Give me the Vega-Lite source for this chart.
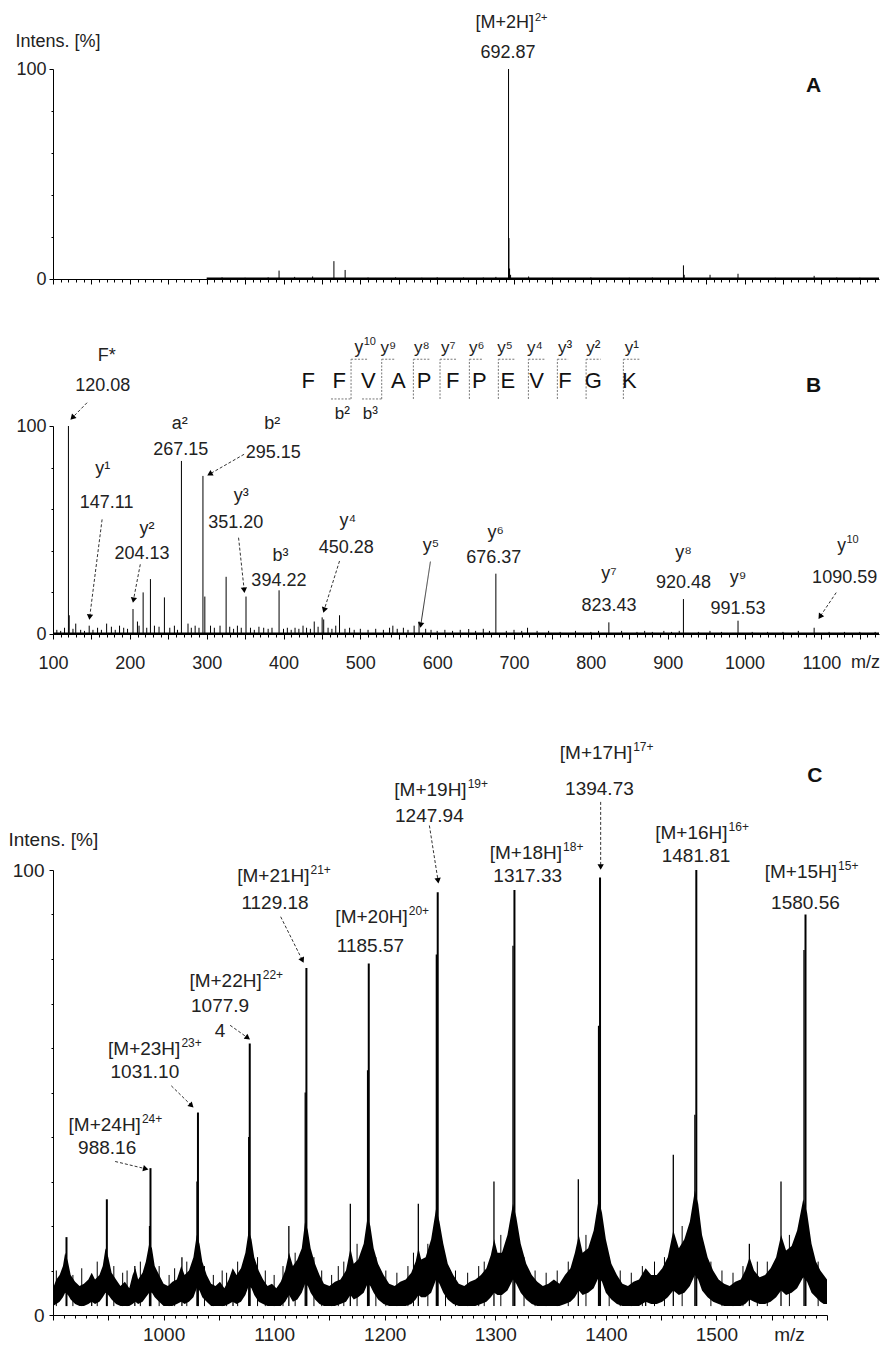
{
  "$schema": "https://vega.github.io/schema/vega-lite/v6.json",
  "padding": {"left": 8, "top": 11, "right": 0, "bottom": 0},
  "bounds": "flush",
  "spacing": 0,
  "config": {
    "view": {"stroke": null},
    "font": "Liberation Sans",
    "axis": {"grid": false, "domainColor": "#000", "tickColor": "#000", "labelColor": "#222", "titleColor": "#222", "titleFontWeight": "normal", "labelFont": "Liberation Sans", "titleFont": "Liberation Sans"},
    "text": {"color": "#222", "font": "Liberation Sans"}
  },
  "datasets": {
    "A_peaks": [
      {"mz":320,"int":0.8},{"mz":350,"int":0.6},{"mz":380,"int":0.8},{"mz":394.2,"int":4},{"mz":414.5,"int":1},{"mz":437.9,"int":1.2},{"mz":465.6,"int":8.5},{"mz":480.2,"int":4.3},{"mz":510,"int":0.7},{"mz":545.9,"int":0.8},{"mz":580,"int":0.6},{"mz":600,"int":0.8},{"mz":634.3,"int":0.7},{"mz":660,"int":0.7},{"mz":676.4,"int":1},{"mz":692.87,"int":100},{"mz":693.4,"int":19.5},{"mz":694.2,"int":5},{"mz":695.5,"int":2},{"mz":719,"int":1.2},{"mz":750,"int":0.6},{"mz":800,"int":0.7},{"mz":850,"int":0.6},{"mz":880,"int":0.7},{"mz":920.5,"int":6.5},{"mz":921.5,"int":2},{"mz":955.1,"int":2},{"mz":991.5,"int":2.5},{"mz":1040,"int":0.6},{"mz":1090.6,"int":1.5},{"mz":1120,"int":0.7},{"mz":1150,"int":0.6}
    ],
    "A_base": [{"mz":300,"mz2":1175,"int":0.3}],
    "A_text": [
      {"t":"692.87","mz":692.1,"int":107.8}
    ],
    "A_sup": [
      {"m":"[M+2H]","s":"2+","mz":725.9,"int":122}
    ],
    "B_base": [{"mz":100,"mz2":1175,"int":0.4}],
    "B_peaks": [
      {"mz":120.08,"int":100},{"mz":121.1,"int":9},{"mz":129.6,"int":5},{"mz":147.11,"int":4},{"mz":169.8,"int":5},{"mz":186.6,"int":4},{"mz":204.13,"int":12},{"mz":209.9,"int":6},{"mz":217.3,"int":20},{"mz":226.8,"int":26.4},{"mz":245,"int":17.6},{"mz":267.15,"int":83.2},{"mz":275.7,"int":5},{"mz":295.15,"int":76},{"mz":297.6,"int":18},{"mz":317.4,"int":4},{"mz":325.3,"int":27.5},{"mz":351.2,"int":18},{"mz":374.2,"int":3},{"mz":394.22,"int":21},{"mz":425.4,"int":4},{"mz":440,"int":6},{"mz":450.28,"int":8},{"mz":452.3,"int":7},{"mz":472.9,"int":9},{"mz":542.3,"int":4},{"mz":570,"int":4},{"mz":576.4,"int":6},{"mz":641,"int":2.4},{"mz":676.37,"int":29},{"mz":717.6,"int":3},{"mz":823.43,"int":5.6},{"mz":920.48,"int":16.8},{"mz":991.53,"int":6.4},{"mz":1090.59,"int":3},
      {"mz":105,"int":2},{"mz":110,"int":1.5},{"mz":115,"int":3},{"mz":126,"int":2.5},{"mz":136,"int":2},{"mz":141,"int":1.5},{"mz":152,"int":2},{"mz":158,"int":3},{"mz":163,"int":2},{"mz":176,"int":3.5},{"mz":181,"int":2},{"mz":192,"int":3},{"mz":197,"int":2.5},{"mz":212,"int":4},{"mz":222,"int":3},{"mz":232,"int":4},{"mz":238,"int":3.5},{"mz":252,"int":3},{"mz":258,"int":4},{"mz":262,"int":2},{"mz":280,"int":3},{"mz":285,"int":4},{"mz":290,"int":3},{"mz":305,"int":4},{"mz":310,"int":3},{"mz":330,"int":3.5},{"mz":335,"int":2.5},{"mz":340,"int":4},{"mz":345,"int":3},{"mz":357,"int":3},{"mz":362,"int":2},{"mz":368,"int":3.5},{"mz":380,"int":2.5},{"mz":385,"int":3},{"mz":400,"int":2.5},{"mz":405,"int":3},{"mz":410,"int":2},{"mz":415,"int":3},{"mz":420,"int":2.5},{"mz":430,"int":3},{"mz":435,"int":2.5},{"mz":445,"int":3.5},{"mz":458,"int":3},{"mz":463,"int":2.5},{"mz":468,"int":4},{"mz":480,"int":2.5},{"mz":486,"int":3},{"mz":492,"int":2},{"mz":500,"int":2.5},{"mz":510,"int":2},{"mz":520,"int":2.5},{"mz":530,"int":2},{"mz":538,"int":3},{"mz":548,"int":2.5},{"mz":556,"int":3},{"mz":562,"int":2},{"mz":585,"int":2.5},{"mz":592,"int":2},{"mz":600,"int":1.5},{"mz":610,"int":2},{"mz":620,"int":1.5},{"mz":630,"int":2},{"mz":650,"int":1.5},{"mz":660,"int":2.5},{"mz":668,"int":1.5},{"mz":690,"int":1.5},{"mz":700,"int":2},{"mz":710,"int":1.5},{"mz":730,"int":1.5},{"mz":745,"int":1.5},{"mz":760,"int":1},{"mz":780,"int":1.5},{"mz":800,"int":1},{"mz":810,"int":1.5},{"mz":840,"int":1.5},{"mz":860,"int":1},{"mz":870,"int":1.5},{"mz":880,"int":1},{"mz":895,"int":1.5},{"mz":905,"int":1},{"mz":915,"int":1.5},{"mz":940,"int":1},{"mz":955,"int":1.5},{"mz":970,"int":1},{"mz":1010,"int":1},{"mz":1030,"int":1},{"mz":1050,"int":1},{"mz":1070,"int":1.5},{"mz":1110,"int":1},{"mz":1130,"int":1},{"mz":1150,"int":1},{"mz":1170,"int":1}
    ],
    "B_text": [
      {"t":"F*","mz":169.8,"int":133.7},{"t":"120.08","mz":164.7,"int":119.2},
      {"t":"a²","mz":264.8,"int":100.8},{"t":"267.15","mz":266.2,"int":88.3},
      {"t":"b²","mz":385.3,"int":100.8},{"t":"295.15","mz":386.7,"int":87.2},
      {"t":"y¹","mz":164.7,"int":79.2},{"t":"147.11","mz":169.8,"int":63.1},
      {"t":"y²","mz":222.3,"int":50.3},{"t":"204.13","mz":215.8,"int":38.3},
      {"t":"y³","mz":345.1,"int":66.3},{"t":"351.20","mz":337.8,"int":53.5},
      {"t":"b³","mz":396.2,"int":37.5},{"t":"394.22","mz":394.0,"int":25.5},
      {"t":"y⁴","mz":483.8,"int":54.3},{"t":"450.28","mz":481.6,"int":41.5},
      {"t":"y⁵","mz":592,"int":42.3},
      {"t":"y⁶","mz":676,"int":48.7},{"t":"676.37","mz":673.7,"int":36.7},
      {"t":"y⁷","mz":823.5,"int":28.7},{"t":"823.43","mz":823.5,"int":13.5},
      {"t":"y⁸","mz":920.6,"int":39.1},{"t":"920.48","mz":920.6,"int":24.7},
      {"t":"y⁹","mz":991.6,"int":27.1},{"t":"991.53","mz":991.6,"int":11.9},
      {"t":"1090.59","mz":1130.3,"int":27.1}
    ],
    "B_sup": [
      {"m":"y","s":"10","mz":503.7,"int":137.6},
      {"m":"y","s":"10","mz":1131.9,"int":42.3}
    ],
    "B_seq": [
      {"t":"F","mz":432.3},{"t":"F","mz":472.6},{"t":"V","mz":510.4},{"t":"A","mz":549.4},{"t":"P","mz":582.9},{"t":"F","mz":620.2},{"t":"P","mz":654.8},{"t":"E","mz":691.8},{"t":"V","mz":729.5},{"t":"F","mz":766.3},{"t":"G","mz":803.2},{"t":"K","mz":850.0}
    ],
    "B_ions": [
      {"t":"y⁹","mz":536.4,"int":137.6},{"t":"y⁸","mz":579.9,"int":137.6},{"t":"y⁷","mz":614.5,"int":137.6},{"t":"y⁶","mz":651.4,"int":137.6},{"t":"y⁵","mz":688.3,"int":137.6},{"t":"y⁴","mz":727.3,"int":137.6},{"t":"y³","mz":766.4,"int":137.6},{"t":"y²","mz":803.2,"int":137.6},{"t":"y¹","mz":853.2,"int":137.6},
      {"t":"b²","mz":476.5,"int":105.6},{"t":"b³","mz":513.1,"int":105.6}
    ],
    "B_brk": [
      {"mz":487.9,"int":113,"mz2":487.9,"int2":132.1},{"mz":527.8,"int":113,"mz2":527.8,"int2":132.1},{"mz":569.0,"int":113,"mz2":569.0,"int2":132.1},{"mz":603.7,"int":113,"mz2":603.7,"int2":132.1},{"mz":641.9,"int":113,"mz2":641.9,"int2":132.1},{"mz":679.6,"int":113,"mz2":679.6,"int2":132.1},{"mz":718.7,"int":113,"mz2":718.7,"int2":132.1},{"mz":756.4,"int":113,"mz2":756.4,"int2":132.1},{"mz":793.8,"int":113,"mz2":793.8,"int2":132.1},{"mz":842.3,"int":113,"mz2":842.3,"int2":132.1},
      {"mz":487.9,"int":132.1,"mz2":509.9,"int2":132.1},{"mz":527.8,"int":132.1,"mz2":545.8,"int2":132.1},{"mz":569.0,"int":132.1,"mz2":591.0,"int2":132.1},{"mz":603.7,"int":132.1,"mz2":625.7,"int2":132.1},{"mz":641.9,"int":132.1,"mz2":659.9,"int2":132.1},{"mz":679.6,"int":132.1,"mz2":701.6,"int2":132.1},{"mz":718.7,"int":132.1,"mz2":740.7,"int2":132.1},{"mz":756.4,"int":132.1,"mz2":770.4,"int2":132.1},{"mz":793.8,"int":132.1,"mz2":812.8,"int2":132.1},{"mz":842.3,"int":132.1,"mz2":864.3,"int2":132.1},
      {"mz":461.8,"int":113,"mz2":487.9,"int2":113},{"mz":502.2,"int":113,"mz2":527.8,"int2":113}
    ],
    "B_arr": [
      {"ion":"F","mz":144.3,"int":111.2,"mz2":126.0,"int2":104.3},
      {"ion":"b2","mz":348.7,"int":86.4,"mz2":304.9,"int2":77.1},
      {"ion":"y1","mz":163.9,"int":55.1,"mz2":147.9,"int2":8.6},
      {"ion":"y2","mz":213.6,"int":33.5,"mz2":204.9,"int2":16.7},
      {"ion":"y3","mz":341.5,"int":46.3,"mz2":348.7,"int2":21.5},
      {"ion":"y4","mz":472.9,"int":35.1,"mz2":453.2,"int2":11.9},
      {"ion":"y5","mz":591.2,"int":34.8,"mz2":578.8,"int2":4.7},
      {"ion":"y10","mz":1119.3,"int":19.9,"mz2":1098.9,"int2":8.7}
    ],
    "C_env": [
      {"mz":900,"hi":6,"lo":2},{"mz":903,"hi":8,"lo":2.5},{"mz":906,"hi":9,"lo":3},{"mz":909,"hi":11,"lo":4},{"mz":911,"hi":14,"lo":5},{"mz":913.5,"hi":12,"lo":4.5},{"mz":916,"hi":9,"lo":3.5},{"mz":920,"hi":7.5,"lo":2.5},{"mz":924,"hi":6.5,"lo":2},{"mz":928,"hi":7,"lo":2},{"mz":932,"hi":8,"lo":2.5},{"mz":935,"hi":9.5,"lo":3},{"mz":938,"hi":8,"lo":2.5},{"mz":942,"hi":9,"lo":3},{"mz":945,"hi":11,"lo":4},{"mz":947.5,"hi":15,"lo":5},{"mz":950,"hi":13,"lo":4.5},{"mz":953,"hi":9.5,"lo":3.5},{"mz":957,"hi":8,"lo":2.5},{"mz":961,"hi":6.5,"lo":2},{"mz":965,"hi":7.5,"lo":2},{"mz":969,"hi":6,"lo":2},{"mz":972,"hi":9,"lo":2.5},{"mz":974.5,"hi":10.5,"lo":3},{"mz":977,"hi":8,"lo":2.5},{"mz":981,"hi":9.5,"lo":3},{"mz":984,"hi":12,"lo":4},{"mz":987,"hi":16,"lo":5},{"mz":989.5,"hi":15,"lo":5},{"mz":992,"hi":11,"lo":4},{"mz":996,"hi":9,"lo":3},
      {"mz":1000,"hi":7,"lo":2},{"mz":1004,"hi":6.5,"lo":2},{"mz":1008,"hi":7.5,"lo":2},{"mz":1012,"hi":8,"lo":2.5},{"mz":1016,"hi":11,"lo":3},{"mz":1019,"hi":9,"lo":2.5},{"mz":1023,"hi":10,"lo":3},{"mz":1027,"hi":13,"lo":4},{"mz":1030,"hi":18,"lo":6},{"mz":1032.5,"hi":16,"lo":5.5},{"mz":1035,"hi":12,"lo":4},{"mz":1039,"hi":9,"lo":3},{"mz":1043,"hi":7,"lo":2},{"mz":1047,"hi":6.5,"lo":2},{"mz":1051,"hi":7.5,"lo":2},{"mz":1055,"hi":6,"lo":2},{"mz":1059,"hi":8,"lo":2.5},{"mz":1062.5,"hi":10.5,"lo":3},{"mz":1066,"hi":9,"lo":2.5},{"mz":1070,"hi":10.5,"lo":3},{"mz":1074,"hi":14,"lo":4.5},{"mz":1077,"hi":19,"lo":6.5},{"mz":1079.5,"hi":17,"lo":6},{"mz":1082,"hi":13,"lo":4.5},{"mz":1086,"hi":10,"lo":3},{"mz":1090,"hi":8,"lo":2.5},{"mz":1094,"hi":6.5,"lo":2},{"mz":1098,"hi":7,"lo":2},
      {"mz":1102,"hi":6,"lo":2},{"mz":1106,"hi":7.5,"lo":2},{"mz":1110,"hi":10,"lo":3},{"mz":1113.5,"hi":14,"lo":4.5},{"mz":1117,"hi":11,"lo":3},{"mz":1121,"hi":12.5,"lo":3.5},{"mz":1125,"hi":15,"lo":5},{"mz":1128,"hi":21,"lo":7},{"mz":1130.5,"hi":19,"lo":6.5},{"mz":1133,"hi":15,"lo":5},{"mz":1137,"hi":11.5,"lo":3.5},{"mz":1141,"hi":9,"lo":2.5},{"mz":1145,"hi":7,"lo":2},{"mz":1150,"hi":6.5,"lo":2},{"mz":1155,"hi":7.5,"lo":2},{"mz":1160,"hi":8,"lo":2.5},{"mz":1165,"hi":10,"lo":3},{"mz":1169,"hi":15,"lo":4.5},{"mz":1172,"hi":11.5,"lo":3.5},{"mz":1176,"hi":12.5,"lo":4},{"mz":1181,"hi":16,"lo":5},{"mz":1184.5,"hi":22,"lo":7},{"mz":1187,"hi":20,"lo":6.5},{"mz":1190,"hi":15,"lo":5},{"mz":1194,"hi":11.5,"lo":3.5},{"mz":1199,"hi":9,"lo":2.5},
      {"mz":1204,"hi":7,"lo":2},{"mz":1209,"hi":6.5,"lo":2},{"mz":1214,"hi":7.5,"lo":2},{"mz":1219,"hi":8,"lo":2},{"mz":1224,"hi":9.5,"lo":2.5},{"mz":1228,"hi":12,"lo":3.5},{"mz":1230.5,"hi":15,"lo":4.5},{"mz":1233,"hi":12.5,"lo":4},{"mz":1237,"hi":13,"lo":4},{"mz":1242,"hi":17,"lo":5},{"mz":1246.5,"hi":24,"lo":8},{"mz":1249.5,"hi":21,"lo":7},{"mz":1253,"hi":16,"lo":5},{"mz":1257,"hi":11.5,"lo":3.5},{"mz":1262,"hi":9,"lo":2.5},{"mz":1267,"hi":7,"lo":2},{"mz":1272,"hi":6.5,"lo":2},{"mz":1277,"hi":7.5,"lo":2},{"mz":1282,"hi":8,"lo":2},{"mz":1287,"hi":9,"lo":2.5},{"mz":1292,"hi":10.5,"lo":3},{"mz":1296,"hi":13.5,"lo":4},{"mz":1299,"hi":17,"lo":5},
      {"mz":1302,"hi":14,"lo":4.5},{"mz":1306,"hi":14,"lo":4.5},{"mz":1311,"hi":18,"lo":5.5},{"mz":1316,"hi":25,"lo":8},{"mz":1319,"hi":22,"lo":7},{"mz":1323,"hi":16,"lo":5},{"mz":1328,"hi":11.5,"lo":3.5},{"mz":1333,"hi":9,"lo":2.5},{"mz":1338,"hi":7.5,"lo":2},{"mz":1343,"hi":6.5,"lo":2},{"mz":1348,"hi":7,"lo":2},{"mz":1353,"hi":8,"lo":2},{"mz":1358,"hi":7,"lo":2},{"mz":1363,"hi":9,"lo":2.5},{"mz":1368,"hi":10.5,"lo":3},{"mz":1372,"hi":14,"lo":4},{"mz":1375.5,"hi":18,"lo":5.5},{"mz":1379,"hi":14,"lo":4.5},{"mz":1384,"hi":15,"lo":5},{"mz":1389,"hi":19,"lo":6},{"mz":1393.5,"hi":26,"lo":8.5},{"mz":1396.5,"hi":23,"lo":7.5},
      {"mz":1400,"hi":17,"lo":5},{"mz":1405,"hi":11.5,"lo":3.5},{"mz":1410,"hi":9,"lo":2.5},{"mz":1415,"hi":7,"lo":2},{"mz":1420,"hi":6.5,"lo":2},{"mz":1425,"hi":7.5,"lo":2},{"mz":1430,"hi":8,"lo":2},{"mz":1436,"hi":10.5,"lo":3},{"mz":1441,"hi":9,"lo":2.5},{"mz":1446,"hi":9,"lo":2.5},{"mz":1451,"hi":10.5,"lo":3},{"mz":1456,"hi":13,"lo":4},{"mz":1461,"hi":19,"lo":5.5},{"mz":1466,"hi":15,"lo":4.5},{"mz":1471,"hi":17,"lo":5},{"mz":1476,"hi":21,"lo":6.5},{"mz":1480.5,"hi":28,"lo":9},{"mz":1483.5,"hi":25,"lo":8},{"mz":1487,"hi":18,"lo":5.5},{"mz":1492,"hi":13,"lo":4},{"mz":1497,"hi":10,"lo":3},
      {"mz":1502,"hi":8,"lo":2.5},{"mz":1507,"hi":7,"lo":2},{"mz":1512,"hi":6.5,"lo":2},{"mz":1517,"hi":7.5,"lo":2},{"mz":1522,"hi":8,"lo":2},{"mz":1526,"hi":10,"lo":2.5},{"mz":1530,"hi":13,"lo":3.5},{"mz":1534,"hi":10,"lo":3},{"mz":1539,"hi":8.5,"lo":2.5},{"mz":1544,"hi":9,"lo":2.5},{"mz":1549,"hi":10.5,"lo":3},{"mz":1554,"hi":13,"lo":4},{"mz":1558.5,"hi":18,"lo":5.5},{"mz":1563,"hi":14.5,"lo":4.5},{"mz":1568,"hi":15.5,"lo":5},{"mz":1573,"hi":19,"lo":6},{"mz":1578.5,"hi":26,"lo":8.5},{"mz":1582,"hi":23,"lo":7.5},{"mz":1586,"hi":16,"lo":5},{"mz":1590,"hi":12,"lo":4},{"mz":1594,"hi":10,"lo":3},{"mz":1597,"hi":9,"lo":2.5},{"mz":1600,"hi":8,"lo":2.5}
    ],
    "C_main": [
      {"mz":912.2,"int":17.5},{"mz":948.7,"int":26},{"mz":988.16,"int":33},{"mz":1031.1,"int":45.5},{"mz":1077.94,"int":61},{"mz":1129.18,"int":78},{"mz":1185.57,"int":79},{"mz":1247.94,"int":95},{"mz":1317.33,"int":95.5},{"mz":1394.73,"int":98.3},{"mz":1481.81,"int":100},{"mz":1580.56,"int":90}
    ],
    "C_sat": [
      {"mz":935,"int":9},{"mz":974,"int":11},{"mz":1016.6,"int":13},{"mz":1062.8,"int":10},{"mz":1113.3,"int":20},{"mz":1168.9,"int":25},{"mz":1230.4,"int":25},{"mz":1298.8,"int":30},{"mz":1375.1,"int":30.5},{"mz":1436,"int":9},{"mz":1461,"int":36},{"mz":1529.8,"int":16},{"mz":1558.4,"int":30},
      {"mz":987.3,"int":20},{"mz":1030.2,"int":30},{"mz":1077,"int":40},{"mz":1128.1,"int":50},{"mz":1184.5,"int":55},{"mz":1246.7,"int":81},{"mz":1316,"int":83},{"mz":1393.4,"int":65},{"mz":1480.5,"int":45},{"mz":1579.2,"int":82}
    ],
    "C_grass": [
      {"mz":903,"int":10},{"mz":918,"int":9},{"mz":926,"int":10.5},{"mz":940,"int":12},{"mz":955,"int":11},{"mz":963,"int":9.5},{"mz":967,"int":10},{"mz":979,"int":12},{"mz":996,"int":11},{"mz":1005,"int":9},{"mz":1010,"int":10.5},{"mz":1021,"int":12},{"mz":1037,"int":11},{"mz":1045,"int":9},{"mz":1053,"int":10},{"mz":1057,"int":9.5},{"mz":1067,"int":12},{"mz":1085,"int":13},{"mz":1092,"int":10},{"mz":1100,"int":9},{"mz":1108,"int":11},{"mz":1119,"int":14},{"mz":1136,"int":13},{"mz":1143,"int":10},{"mz":1152,"int":9},{"mz":1158,"int":11},{"mz":1163,"int":12},{"mz":1175,"int":16},{"mz":1192,"int":13},{"mz":1201,"int":10},{"mz":1211,"int":9.5},{"mz":1221,"int":11},{"mz":1226,"int":14},{"mz":1239,"int":16},{"mz":1255,"int":13},{"mz":1264,"int":10},{"mz":1275,"int":9.5},{"mz":1285,"int":11},{"mz":1290,"int":12},{"mz":1305,"int":18},{"mz":1326,"int":13},{"mz":1336,"int":10},{"mz":1346,"int":9.5},{"mz":1356,"int":10},{"mz":1366,"int":12},{"mz":1382,"int":18},{"mz":1403,"int":13},{"mz":1413,"int":10},{"mz":1423,"int":9.5},{"mz":1433,"int":11},{"mz":1444,"int":12},{"mz":1453,"int":13},{"mz":1469,"int":20},{"mz":1495,"int":12},{"mz":1505,"int":10},{"mz":1515,"int":9.5},{"mz":1524,"int":11},{"mz":1537,"int":12},{"mz":1546,"int":12},{"mz":1566,"int":18},{"mz":1592,"int":12}
    ],
    "C_text": [
      {"t":"988.16","mz":949,"int":37.6},
      {"t":"1031.10","mz":983.1,"int":54.6},
      {"t":"1077.9","mz":1051.1,"int":69.4},{"t":"4","mz":1051.1,"int":63.8},
      {"t":"1129.18","mz":1100.8,"int":92.6},
      {"t":"1185.57","mz":1187.1,"int":83},
      {"t":"1247.94","mz":1240.4,"int":112.2},
      {"t":"1317.33","mz":1329.3,"int":98.7},
      {"t":"1394.73","mz":1394.2,"int":118.3},
      {"t":"1481.81","mz":1481.6,"int":103.1},
      {"t":"1580.56","mz":1580.5,"int":92.6}
    ],
    "C_sup": [
      {"m":"[M+24H]","s":"24+","mz":979.5,"int":42.8},
      {"m":"[M+23H]","s":"23+","mz":1015.2,"int":59.8},
      {"m":"[M+22H]","s":"22+","mz":1088.8,"int":75.1},
      {"m":"[M+21H]","s":"21+","mz":1132.0,"int":98.7},
      {"m":"[M+20H]","s":"20+","mz":1220.8,"int":89.5},
      {"m":"[M+19H]","s":"19+","mz":1274.1,"int":117.9},
      {"m":"[M+18H]","s":"18+","mz":1360.4,"int":103.9},
      {"m":"[M+17H]","s":"17+","mz":1423.8,"int":126.2},
      {"m":"[M+16H]","s":"16+","mz":1510.1,"int":108.3},
      {"m":"[M+15H]","s":"15+","mz":1609.1,"int":99.6}
    ],
    "C_arr": [
      {"mz":956.2,"int":34.5,"mz2":983.1,"int2":32.9},
      {"mz":1007,"int":51.5,"mz2":1024.7,"int2":47.2},
      {"mz":1060.2,"int":65.1,"mz2":1075.5,"int2":62.4},
      {"mz":1105.9,"int":89.5,"mz2":1125.2,"int2":79.9},
      {"mz":1240.4,"int":110,"mz2":1248.1,"int2":97.8},
      {"mz":1395.3,"int":115.3,"mz2":1395.3,"int2":100.9}
    ]
  },
  "vconcat": [
    {
      "width": 826, "height": 210,
      "layer": [
        {
          "data": {"name": "A_peaks"},
          "mark": {"type": "rule", "color": "black", "strokeWidth": 1},
          "encoding": {
            "x": {"field": "mz", "type": "quantitative", "scale": {"domain": [100, 1175], "nice": false, "zero": false},
                  "axis": {"title": null, "labels": false, "tickCount": 108, "tickSize": {"condition": {"test": "datum.value % 50 === 0", "value": 5}, "value": 3}}},
            "y": {"field": "int", "type": "quantitative", "scale": {"domain": [0, 100], "nice": false},
                  "axis": {"title": "Intens. [%]", "titleAngle": 0, "titleAlign": "left", "titleBaseline": "middle", "titleX": -38, "titleY": -28, "titleFontSize": 18,
                           "values": [0,10,20,30,40,50,60,70,80,90,100], "labelExpr": "datum.value === 0 || datum.value === 100 ? datum.label : ''", "labelFontSize": 18, "labelPadding": 3,
                           "tickSize": {"condition": {"test": "datum.value === 0 || datum.value === 100", "value": 4}, "value": 2}}},
            "y2": {"datum": 0}
          }
        },
        {
          "data": {"name": "A_base"},
          "mark": {"type": "rule", "color": "black", "strokeWidth": 1.5},
          "encoding": {
            "x": {"field": "mz", "type": "quantitative", "scale": {"domain": [100, 1175], "nice": false, "zero": false}},
            "x2": {"field": "mz2"},
            "y": {"field": "int", "type": "quantitative", "scale": {"domain": [0, 100], "nice": false}}
          }
        },
        {
          "data": {"name": "A_text"},
          "mark": {"type": "text", "fontSize": 18, "baseline": "middle", "align": "center"},
          "encoding": {
            "x": {"field": "mz", "type": "quantitative", "scale": {"domain": [100, 1175], "nice": false, "zero": false}},
            "y": {"field": "int", "type": "quantitative", "scale": {"domain": [0, 100], "nice": false}},
            "text": {"field": "t"}
          }
        },
        {
          "data": {"name": "A_sup"},
          "mark": {"type": "text", "fontSize": 18, "baseline": "middle", "align": "right"},
          "encoding": {
            "x": {"field": "mz", "type": "quantitative", "scale": {"domain": [100, 1175], "nice": false, "zero": false}},
            "y": {"field": "int", "type": "quantitative", "scale": {"domain": [0, 100], "nice": false}},
            "text": {"field": "m"}
          }
        },
        {
          "data": {"name": "A_sup"},
          "mark": {"type": "text", "fontSize": 11, "baseline": "middle", "align": "left", "dy": -5, "dx": 1},
          "encoding": {
            "x": {"field": "mz", "type": "quantitative", "scale": {"domain": [100, 1175], "nice": false, "zero": false}},
            "y": {"field": "int", "type": "quantitative", "scale": {"domain": [0, 100], "nice": false}},
            "text": {"field": "s"}
          }
        },
        {
          "data": {"values": [{"t": "A", "mz": 1090, "int": 92}]},
          "mark": {"type": "text", "fontSize": 21, "fontWeight": "bold", "baseline": "middle", "align": "center", "color": "#111"},
          "encoding": {
            "x": {"field": "mz", "type": "quantitative", "scale": {"domain": [100, 1175], "nice": false, "zero": false}},
            "y": {"field": "int", "type": "quantitative", "scale": {"domain": [0, 100], "nice": false}},
            "text": {"field": "t"}
          }
        }
      ]
    },
    {"width": 10, "height": 147, "data": {"values": [{"a": 1}]}, "mark": {"type": "point", "opacity": 0}},
    {
      "width": 826, "height": 208,
      "layer": [
        {
          "data": {"name": "B_peaks"},
          "mark": {"type": "rule", "color": "black", "strokeWidth": 1},
          "encoding": {
            "x": {"field": "mz", "type": "quantitative", "scale": {"domain": [100, 1175], "nice": false, "zero": false},
                  "axis": {"title": "m/z", "titleX": 812, "titleY": 28, "titleAlign": "center", "titleBaseline": "middle", "titleFontSize": 18,
                           "tickCount": 108, "format": "d", "labelExpr": "datum.value % 100 === 0 ? datum.label : ''", "labelFontSize": 18, "labelPadding": 15,
                           "labelFlush": false, "labelOverlap": false, "labelBound": false,
                           "tickSize": {"condition": {"test": "datum.value % 50 === 0", "value": 5}, "value": 3}}},
            "y": {"field": "int", "type": "quantitative", "scale": {"domain": [0, 100], "nice": false},
                  "axis": {"title": null, "values": [0,10,20,30,40,50,60,70,80,90,100], "labelExpr": "datum.value === 0 || datum.value === 100 ? datum.label : ''", "labelFontSize": 18, "labelPadding": 3,
                           "tickSize": {"condition": {"test": "datum.value === 0 || datum.value === 100", "value": 4}, "value": 2}}},
            "y2": {"datum": 0}
          }
        },
        {
          "data": {"name": "B_base"},
          "mark": {"type": "rule", "color": "black", "strokeWidth": 1.5},
          "encoding": {
            "x": {"field": "mz", "type": "quantitative", "scale": {"domain": [100, 1175], "nice": false, "zero": false}},
            "x2": {"field": "mz2"},
            "y": {"field": "int", "type": "quantitative", "scale": {"domain": [0, 100], "nice": false}}
          }
        },
        {
          "data": {"name": "B_brk"},
          "mark": {"type": "rule", "color": "#777", "strokeWidth": 1, "strokeDash": [2, 1.5]},
          "encoding": {
            "x": {"field": "mz", "type": "quantitative", "scale": {"domain": [100, 1175], "nice": false, "zero": false}},
            "x2": {"field": "mz2"},
            "y": {"field": "int", "type": "quantitative", "scale": {"domain": [0, 100], "nice": false}},
            "y2": {"field": "int2"}
          }
        },
        {
          "data": {"name": "B_arr"},
          "mark": {"type": "rule", "color": "#333", "strokeWidth": 1},
          "encoding": {
            "x": {"field": "mz", "type": "quantitative", "scale": {"domain": [100, 1175], "nice": false, "zero": false}},
            "x2": {"field": "mz2"},
            "y": {"field": "int", "type": "quantitative", "scale": {"domain": [0, 100], "nice": false}},
            "y2": {"field": "int2"},
            "strokeDash": {"condition": {"test": "datum.ion === 'y5'", "value": [1, 0]}, "value": [3, 2]},
            "strokeWidth": {"condition": {"test": "datum.ion === 'y5'", "value": 1.6}, "value": 1}
          }
        },
        {
          "data": {"name": "B_arr"},
          "transform": [{"calculate": "atan2((datum.mz2 - datum.mz) * 0.7683, (datum.int2 - datum.int) * 2.08) * 180 / PI", "as": "ang"}],
          "mark": {"type": "point", "shape": "triangle", "filled": true, "color": "black", "size": 40, "opacity": 1},
          "encoding": {
            "x": {"field": "mz2", "type": "quantitative", "scale": {"domain": [100, 1175], "nice": false, "zero": false}},
            "y": {"field": "int2", "type": "quantitative", "scale": {"domain": [0, 100], "nice": false}},
            "angle": {"field": "ang", "type": "quantitative", "scale": null}
          }
        },
        {
          "data": {"name": "B_text"},
          "mark": {"type": "text", "fontSize": 18, "baseline": "middle", "align": "center"},
          "encoding": {
            "x": {"field": "mz", "type": "quantitative", "scale": {"domain": [100, 1175], "nice": false, "zero": false}},
            "y": {"field": "int", "type": "quantitative", "scale": {"domain": [0, 100], "nice": false}},
            "text": {"field": "t"}
          }
        },
        {
          "data": {"name": "B_sup"},
          "mark": {"type": "text", "fontSize": 17.5, "baseline": "middle", "align": "right"},
          "encoding": {
            "x": {"field": "mz", "type": "quantitative", "scale": {"domain": [100, 1175], "nice": false, "zero": false}},
            "y": {"field": "int", "type": "quantitative", "scale": {"domain": [0, 100], "nice": false}},
            "text": {"field": "m"}
          }
        },
        {
          "data": {"name": "B_sup"},
          "mark": {"type": "text", "fontSize": 11, "baseline": "middle", "align": "left", "dy": -6, "dx": 0.5},
          "encoding": {
            "x": {"field": "mz", "type": "quantitative", "scale": {"domain": [100, 1175], "nice": false, "zero": false}},
            "y": {"field": "int", "type": "quantitative", "scale": {"domain": [0, 100], "nice": false}},
            "text": {"field": "s"}
          }
        },
        {
          "data": {"name": "B_seq"},
          "mark": {"type": "text", "fontSize": 22, "baseline": "middle", "align": "center", "color": "#111"},
          "encoding": {
            "x": {"field": "mz", "type": "quantitative", "scale": {"domain": [100, 1175], "nice": false, "zero": false}},
            "y": {"datum": 121.6, "type": "quantitative", "scale": {"domain": [0, 100], "nice": false}},
            "text": {"field": "t"}
          }
        },
        {
          "data": {"name": "B_ions"},
          "mark": {"type": "text", "fontSize": 17, "baseline": "middle", "align": "center"},
          "encoding": {
            "x": {"field": "mz", "type": "quantitative", "scale": {"domain": [100, 1175], "nice": false, "zero": false}},
            "y": {"field": "int", "type": "quantitative", "scale": {"domain": [0, 100], "nice": false}},
            "text": {"field": "t"}
          }
        },
        {
          "data": {"values": [{"t": "B", "mz": 1090, "int": 119.2}]},
          "mark": {"type": "text", "fontSize": 21, "fontWeight": "bold", "baseline": "middle", "align": "center", "color": "#111"},
          "encoding": {
            "x": {"field": "mz", "type": "quantitative", "scale": {"domain": [100, 1175], "nice": false, "zero": false}},
            "y": {"field": "int", "type": "quantitative", "scale": {"domain": [0, 100], "nice": false}},
            "text": {"field": "t"}
          }
        }
      ]
    },
    {"width": 10, "height": 236, "data": {"values": [{"a": 1}]}, "mark": {"type": "point", "opacity": 0}},
    {
      "width": 774, "height": 445,
      "layer": [
        {
          "data": {"name": "C_env"},
          "mark": {"type": "area", "color": "black", "opacity": 1},
          "encoding": {
            "x": {"field": "mz", "type": "quantitative", "scale": {"domain": [900, 1600], "nice": false, "zero": false},
                  "axis": {"title": "m/z", "titleX": 736, "titleY": 19, "titleAlign": "center", "titleBaseline": "middle", "titleFontSize": 19,
                           "tickCount": 70, "format": "d", "labelExpr": "datum.value % 100 === 0 && datum.value > 900 && datum.value < 1600 ? datum.label : ''", "labelFontSize": 19, "labelPadding": 5,
                           "labelFlush": false, "labelOverlap": false, "labelBound": false,
                           "tickSize": {"condition": {"test": "datum.value % 50 === 0", "value": 5}, "value": 3}}},
            "y": {"field": "hi", "type": "quantitative", "scale": {"domain": [0, 100], "nice": false},
                  "axis": {"title": "Intens. [%]", "titleAngle": 0, "titleAlign": "left", "titleBaseline": "middle", "titleX": -45, "titleY": -31, "titleFontSize": 19,
                           "values": [0,10,20,30,40,50,60,70,80,90,100], "labelExpr": "datum.value === 0 || datum.value === 100 ? datum.label : ''", "labelFontSize": 19, "labelPadding": 5,
                           "tickSize": {"condition": {"test": "datum.value === 0 || datum.value === 100", "value": 4}, "value": 2}}},
            "y2": {"field": "lo"}
          }
        },
        {
          "data": {"name": "C_grass"},
          "mark": {"type": "rule", "color": "black", "strokeWidth": 1},
          "encoding": {
            "x": {"field": "mz", "type": "quantitative", "scale": {"domain": [900, 1600], "nice": false, "zero": false}},
            "y": {"field": "int", "type": "quantitative", "scale": {"domain": [0, 100], "nice": false}},
            "y2": {"datum": 2}
          }
        },
        {
          "data": {"name": "C_sat"},
          "mark": {"type": "rule", "color": "black", "strokeWidth": 1.3},
          "encoding": {
            "x": {"field": "mz", "type": "quantitative", "scale": {"domain": [900, 1600], "nice": false, "zero": false}},
            "y": {"field": "int", "type": "quantitative", "scale": {"domain": [0, 100], "nice": false}},
            "y2": {"datum": 2}
          }
        },
        {
          "data": {"name": "C_main"},
          "mark": {"type": "rule", "color": "black", "strokeWidth": 2},
          "encoding": {
            "x": {"field": "mz", "type": "quantitative", "scale": {"domain": [900, 1600], "nice": false, "zero": false}},
            "y": {"field": "int", "type": "quantitative", "scale": {"domain": [0, 100], "nice": false}},
            "y2": {"datum": 2}
          }
        },
        {
          "data": {"name": "C_arr"},
          "mark": {"type": "rule", "color": "#333", "strokeWidth": 1, "strokeDash": [3, 2]},
          "encoding": {
            "x": {"field": "mz", "type": "quantitative", "scale": {"domain": [900, 1600], "nice": false, "zero": false}},
            "x2": {"field": "mz2"},
            "y": {"field": "int", "type": "quantitative", "scale": {"domain": [0, 100], "nice": false}},
            "y2": {"field": "int2"}
          }
        },
        {
          "data": {"name": "C_arr"},
          "transform": [{"calculate": "atan2((datum.mz2 - datum.mz) * 1.1057, (datum.int2 - datum.int) * 4.45) * 180 / PI", "as": "ang"}],
          "mark": {"type": "point", "shape": "triangle", "filled": true, "color": "black", "size": 40, "opacity": 1},
          "encoding": {
            "x": {"field": "mz2", "type": "quantitative", "scale": {"domain": [900, 1600], "nice": false, "zero": false}},
            "y": {"field": "int2", "type": "quantitative", "scale": {"domain": [0, 100], "nice": false}},
            "angle": {"field": "ang", "type": "quantitative", "scale": null}
          }
        },
        {
          "data": {"name": "C_text"},
          "mark": {"type": "text", "fontSize": 19, "baseline": "middle", "align": "center"},
          "encoding": {
            "x": {"field": "mz", "type": "quantitative", "scale": {"domain": [900, 1600], "nice": false, "zero": false}},
            "y": {"field": "int", "type": "quantitative", "scale": {"domain": [0, 100], "nice": false}},
            "text": {"field": "t"}
          }
        },
        {
          "data": {"name": "C_sup"},
          "mark": {"type": "text", "fontSize": 19, "baseline": "middle", "align": "right"},
          "encoding": {
            "x": {"field": "mz", "type": "quantitative", "scale": {"domain": [900, 1600], "nice": false, "zero": false}},
            "y": {"field": "int", "type": "quantitative", "scale": {"domain": [0, 100], "nice": false}},
            "text": {"field": "m"}
          }
        },
        {
          "data": {"name": "C_sup"},
          "mark": {"type": "text", "fontSize": 12, "baseline": "middle", "align": "left", "dy": -6, "dx": 1},
          "encoding": {
            "x": {"field": "mz", "type": "quantitative", "scale": {"domain": [900, 1600], "nice": false, "zero": false}},
            "y": {"field": "int", "type": "quantitative", "scale": {"domain": [0, 100], "nice": false}},
            "text": {"field": "s"}
          }
        },
        {
          "data": {"values": [{"t": "C", "mz": 1589, "int": 121.1}]},
          "mark": {"type": "text", "fontSize": 21, "fontWeight": "bold", "baseline": "middle", "align": "center", "color": "#111"},
          "encoding": {
            "x": {"field": "mz", "type": "quantitative", "scale": {"domain": [900, 1600], "nice": false, "zero": false}},
            "y": {"field": "int", "type": "quantitative", "scale": {"domain": [0, 100], "nice": false}},
            "text": {"field": "t"}
          }
        }
      ]
    }
  ]
}
